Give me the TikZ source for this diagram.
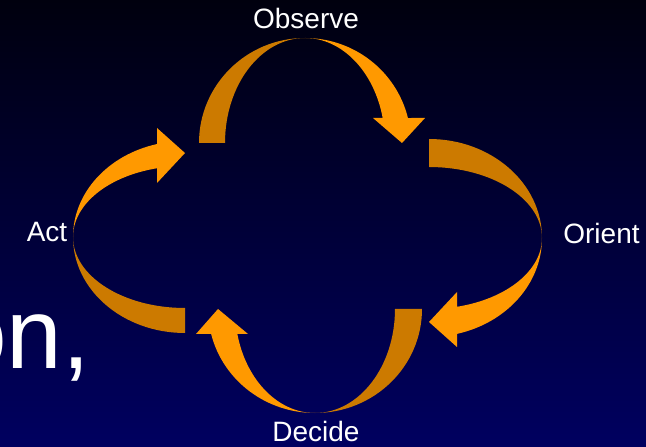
\documentclass[tikz,border=0pt]{standalone}
\usepackage{fontspec}
\setmainfont{Liberation Sans}
\definecolor{lightorange}{RGB}{255,153,0}
\definecolor{darkorange}{RGB}{204,122,0}
\definecolor{bgtop}{RGB}{0,0,14}
\definecolor{bgbottom}{RGB}{0,0,96}
\newcommand\oodaarrow[9]{%
  \begin{scope}[shift={#1},rotate=#2]
    \fill[darkorange] (-#3,0)
      arc[start angle=180,end angle=90,x radius=#3pt,y radius=#5pt]
      arc[start angle=90,end angle=180,x radius=#4pt,y radius=#5pt] -- cycle;
    \fill[lightorange] (0,#5)
      arc[start angle=90,end angle={asin(#6/#5)},x radius=#3pt,y radius=#5pt]
      -- (#8,#6) -- (#9,0) -- (#7,#6) -- ({#4*cos(asin(#6/#5))},#6)
      arc[start angle={asin(#6/#5)},end angle=90,x radius=#4pt,y radius=#5pt] -- cycle;
  \end{scope}}
\tikzset{lbl/.style={text=white,inner sep=0pt,anchor=base,font=\fontsize{28}{32}\selectfont}}
\begin{document}
\begin{tikzpicture}[x=1pt,y=1pt]
  \useasboundingbox (0,0) rectangle (646,447);
  \clip (0,0) rectangle (646,447);
  \shade[top color=bgtop,bottom color=bgbottom] (0,0) rectangle (646,447);
  \node[text=white,inner sep=0pt,anchor=base west,font=\fontsize{100}{110}\selectfont] (onText) at (-49,78) {on,};
  % Observe (top), Orient (right), Decide (bottom), Act (left)
  \oodaarrow{(305,304)}{0}{106}{80}{105}{25}{68}{120}{97}
  \oodaarrow{(429,209)}{-90}{99}{71}{113}{28}{54}{109}{84}
  \oodaarrow{(315,138)}{180}{107}{80}{104}{25}{67}{119}{97}
  \oodaarrow{(185,210)}{90}{96}{71}{112}{28}{54}{109}{84}
  \node[lbl] (observe) at (306,418) {Observe};
  \node[lbl] (orient) at (601.5,203) {Orient};
  \node[lbl] (decide) at (316,5) {Decide};
  \node[lbl] (act) at (47,205) {Act};
\end{tikzpicture}
\end{document}
